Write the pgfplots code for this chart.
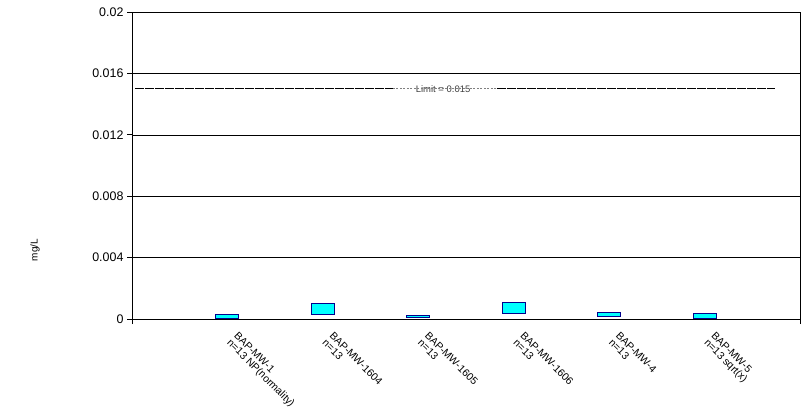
\documentclass[border=0pt]{standalone}
\usepackage{pgfplots}
\pgfplotsset{compat=1.18}
\usepackage{fontspec}
\setmainfont{Liberation Sans}
\definecolor{barfill}{RGB}{0,255,255}
\definecolor{baredge}{RGB}{0,0,140}
\begin{document}
\begin{tikzpicture}
\begin{axis}[
  scale only axis,
  width=668bp, height=307bp,
  xmin=0, xmax=7, ymin=0, ymax=0.02,
  ybar stacked, bar width=0.24,
  axis line style={black, line width=0.8bp},
  xtick={1,2,3,4,5,6},
  xticklabels={{BAP-MW-1\\n=13 NP(normality)},{BAP-MW-1604\\n=13},{BAP-MW-1605\\n=13},{BAP-MW-1606\\n=13},{BAP-MW-4\\n=13},{BAP-MW-5\\n=13 sqrt(x)}},
  xtick pos=left, ytick pos=left,
  major x tick style={draw=none},
  extra x ticks={0,7},
  extra x tick labels={},
  extra x tick style={major x tick style={draw=black, line width=0.8bp}},
  xticklabel style={rotate=-45, anchor=north west, align=left, font=\fontsize{10.5}{10}\selectfont, inner sep=0pt, xshift=13bp, yshift=3bp},
  scaled y ticks=false,
  ytick={0,0.004,0.008,0.012,0.016,0.02},
  yticklabels={0,0.004,0.008,0.012,0.016,0.02},
  yticklabel style={font=\fontsize{12.5}{14}\selectfont},
  /pgf/number format/assume math mode=true,
  tick align=outside,
  major tick length=5bp,
  tick style={black, line width=0.8bp},
  ymajorgrids,
  grid style={black, line width=0.6bp},
  ylabel={mg/L},
  ylabel style={at={(axis description cs:-0.145,0.225)}, anchor=center, font=\fontsize{10}{12}\selectfont},
  clip=false,
]
% lower ends (invisible)
\addplot[draw=none, fill=none] coordinates {(1,0.00003) (2,0.00029) (3,0.00008) (4,0.00036) (5,0.00018) (6,0.00005)};
% range heights
\addplot[fill=barfill, draw=baredge, line width=1bp] coordinates {(1,0.00027) (2,0.00072) (3,0.00015) (4,0.00070) (5,0.00022) (6,0.00033)};
% limit line
\addplot[sharp plot, stack plots=false, black, line width=0.8bp, dash pattern=on 9bp off 1bp, mark=none] coordinates {(0.03,0.015) (2.733,0.015)};
\addplot[sharp plot, stack plots=false, gray, line width=0.6bp, dash pattern=on 2bp off 1.5bp, mark=none] coordinates {(2.733,0.015) (3.822,0.015)};
\addplot[sharp plot, stack plots=false, black, line width=0.8bp, dash pattern=on 9bp off 1bp, mark=none] coordinates {(3.822,0.015) (6.733,0.015)};
\node[font=\fontsize{9.5}{10}\selectfont, text=black!75, inner sep=0pt] at (axis cs:3.26,0.015) {Limit = 0.015};
\end{axis}
\path (current axis.south west) ++(-132bp,-93bp) coordinate (bbl);
\path (current axis.north east) ++(10bp,12bp) coordinate (bbr);
\pgfresetboundingbox
\path (bbl) rectangle (bbr);
\end{tikzpicture}
\end{document}
